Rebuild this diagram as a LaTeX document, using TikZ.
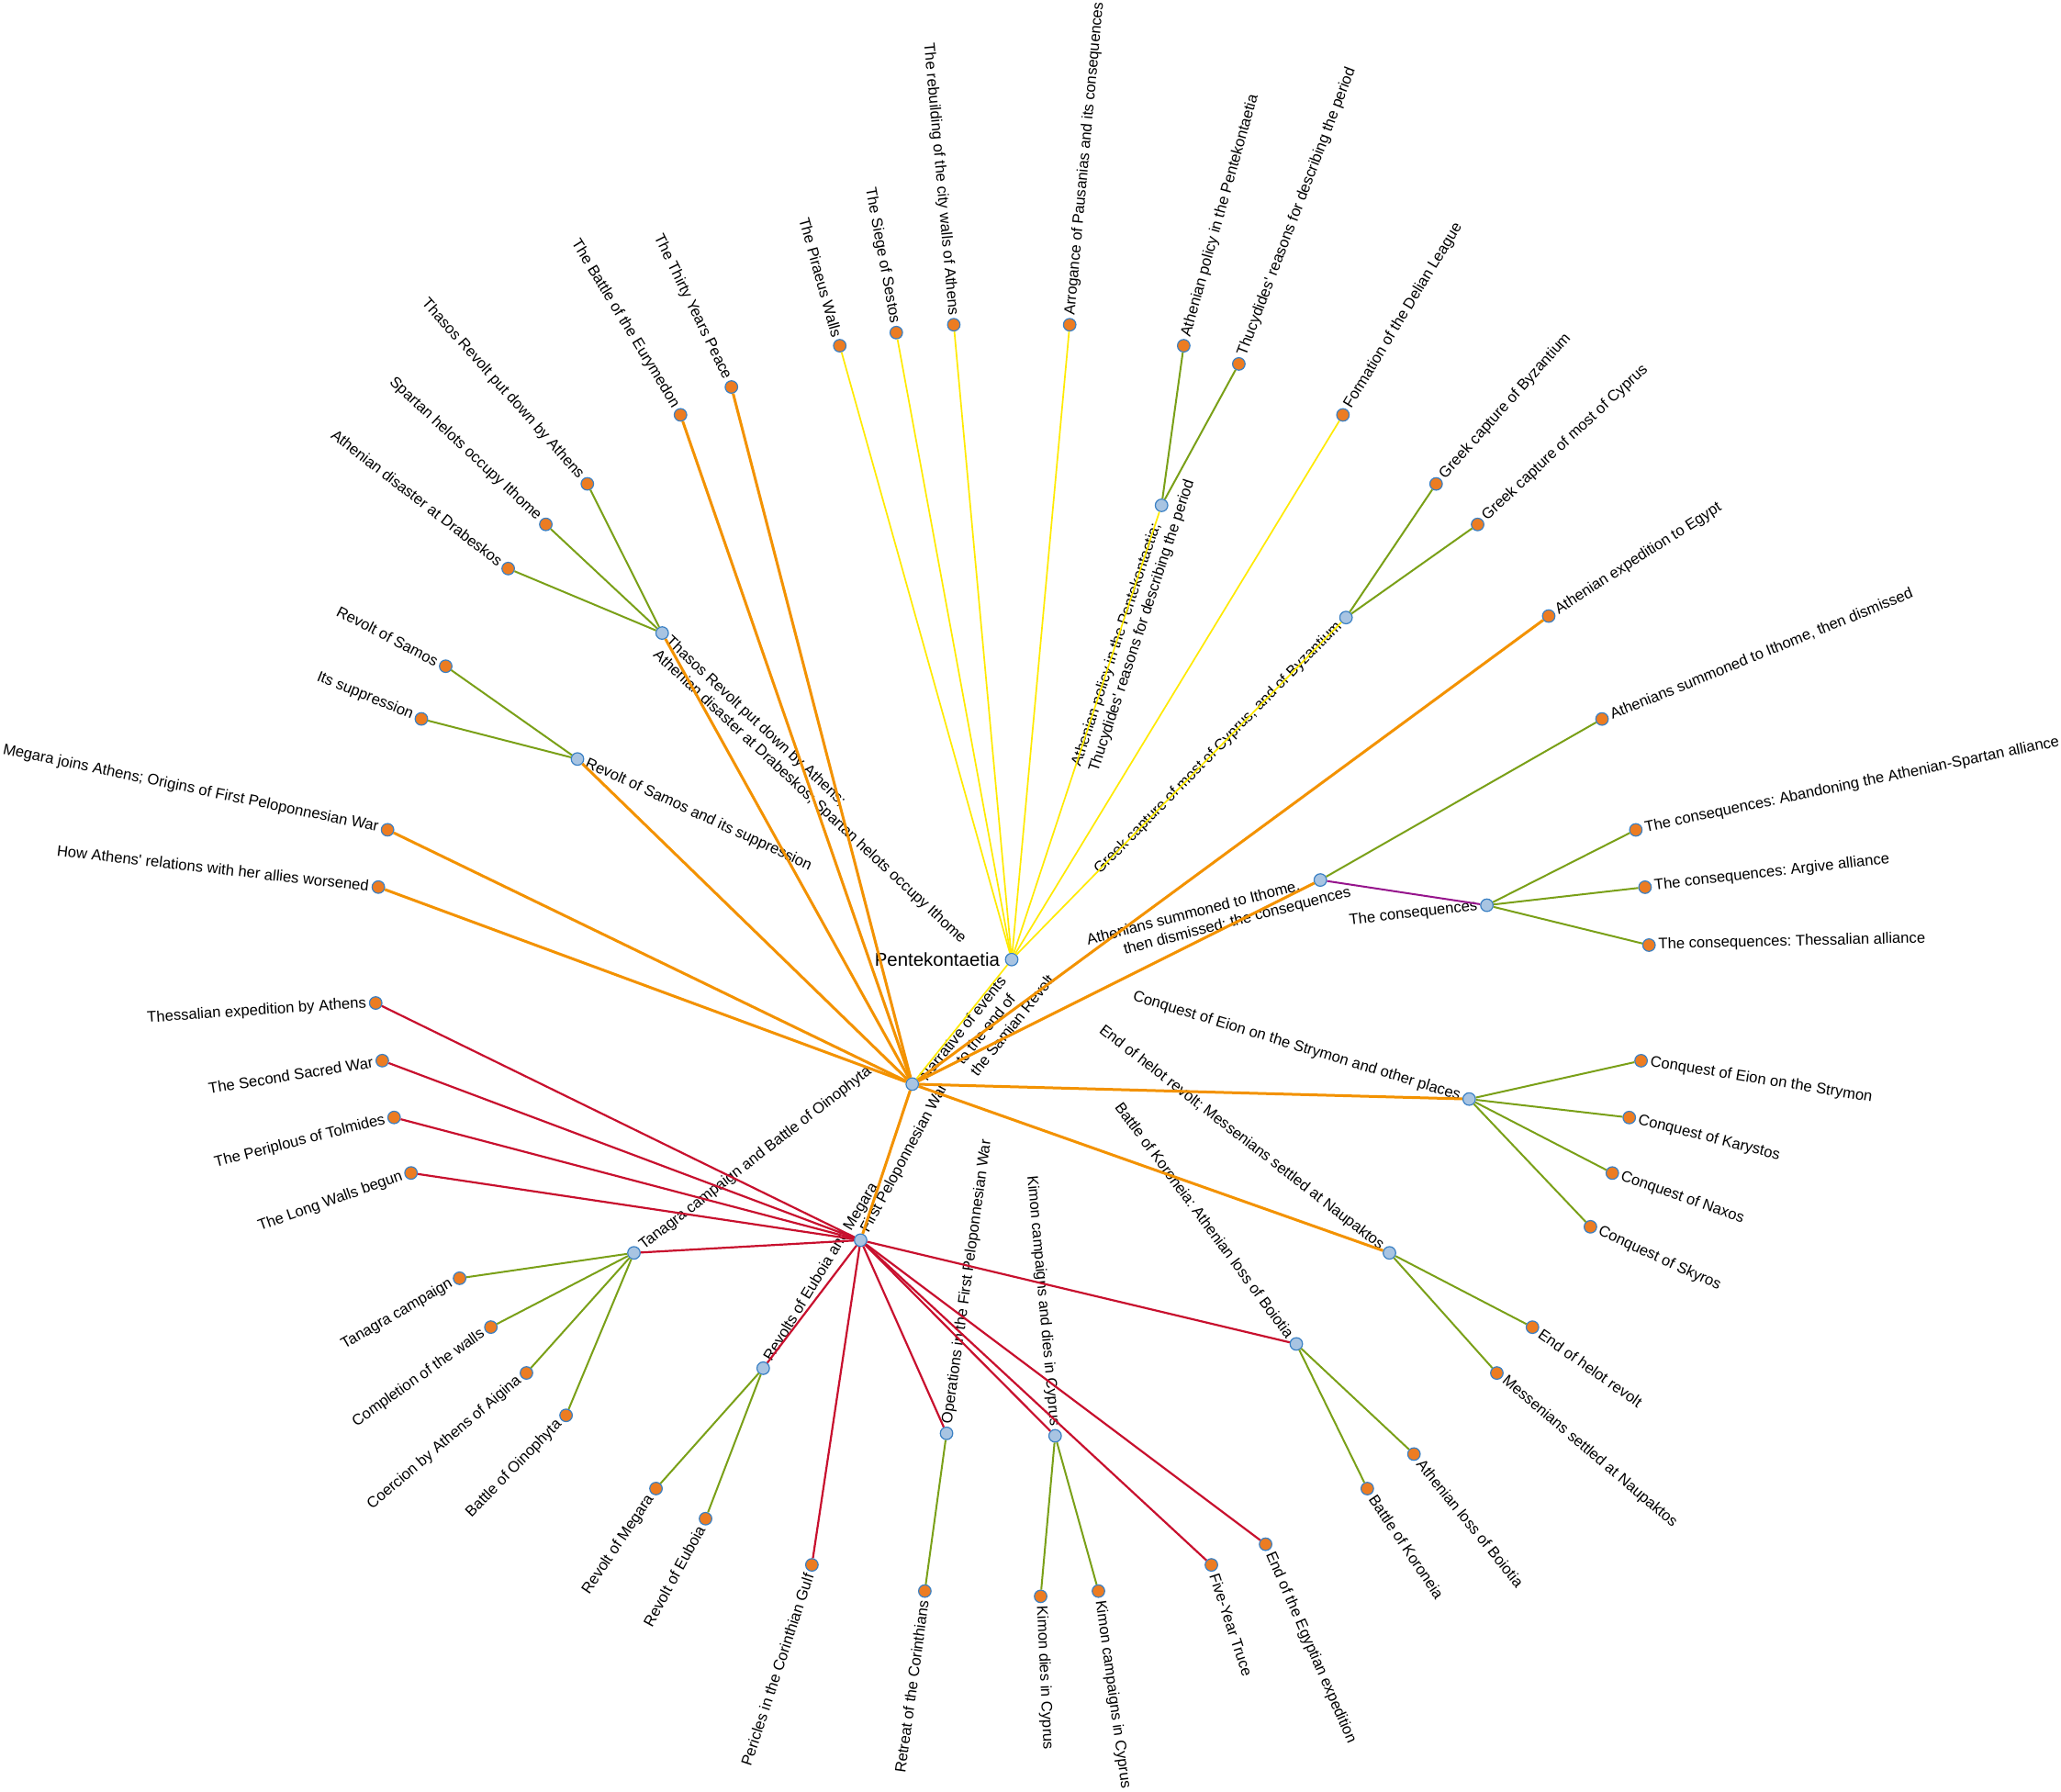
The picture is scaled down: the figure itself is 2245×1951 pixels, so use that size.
\documentclass[tikz,border=0pt]{standalone}
\usepackage{fontspec}
\setmainfont{Liberation Sans}
\frenchspacing
\definecolor{cyel}{RGB}{255,234,0}
\definecolor{corg}{RGB}{243,146,0}
\definecolor{cgrn}{RGB}{122,160,24}
\definecolor{cred}{RGB}{200,16,46}
\definecolor{cpur}{RGB}{150,20,140}
\definecolor{cleaf}{RGB}{236,124,34}
\definecolor{cint}{RGB}{168,196,226}
\definecolor{cbrd}{RGB}{58,128,196}
\newcommand{\LeafR}[3]{\node[leaf] (#1) at ({1.3+#2*5.2173913}:694.4) {};\node[lbl,anchor=west,rotate={1.3+#2*5.2173913}] (#1-t) at ({1.3+#2*5.2173913}:704.4) {#3};}
\newcommand{\LeafL}[3]{\node[leaf] (#1) at ({1.3+#2*5.2173913}:694.4) {};\node[lbl,anchor=east,rotate={1.3+#2*5.2173913-180}] (#1-t) at ({1.3+#2*5.2173913}:704.4) {#3};}
\begin{document}
\frenchspacing
\begin{tikzpicture}[x=0.5pt,y=0.5pt,
 lbl/.style={font=\fontsize{8.3}{10}\selectfont\frenchspacing,inner sep=0pt},
 leaf/.style={circle,fill=cleaf,draw=cbrd,line width=0.6pt,minimum size=6.8pt,inner sep=0pt},
 inode/.style={circle,fill=cint,draw=cbrd,line width=0.6pt,minimum size=6.8pt,inner sep=0pt},
 ey/.style={draw=cyel,line width=0.85pt},
 eo/.style={draw=corg,line width=1.5pt},
 eg/.style={draw=cgrn,line width=1pt},
 er/.style={draw=cred,line width=1.1pt},
 ep/.style={draw=cpur,line width=1pt}]
\fill[white] (0,0) rectangle (2245,-1951);
\useasboundingbox (0,0) rectangle (2245,-1951);
\begin{scope}[shift={(1102,-1045.2)}]
% root
\node[inode] (root) at (0,0) {};
\node[font=\fontsize{10.2}{12}\selectfont,inner sep=0pt,anchor=east] (root-t) at (-12.7,0) {Pentekontaetia};
% internal nodes
\node[inode] (N) at (231.4:173.6) {};
\node[inode] (FPW) at (241.7:347.2) {};
\node[inode] (Sum) at (14.45:347.2) {};
\node[inode] (Pol) at (71.74:521) {};
\node[inode] (Cyp) at (45.65:521) {};
\node[inode] (Tha) at (136.95:521) {};
\node[inode] (Sam) at (155.21:521) {};
\node[inode] (Con) at (6.52:521) {};
\node[inode] (Eio) at (343.04:521) {};
\node[inode] (Hel) at (322.17:521) {};
\node[inode] (Tan) at (217.83:521) {};
\node[inode] (Rev) at (238.7:521) {};
\node[inode] (Ope) at (262.17:521) {};
\node[inode] (Kim) at (275.21:521) {};
\node[inode] (Kor) at (306.52:521) {};
% internal labels
\node[lbl,align=left,anchor=north west,rotate=51.4] (N-t) at ({161.8*cos(231.4)+1.5*cos(141.4)},{161.8*sin(231.4)+1.5*sin(141.4)}) {Narrative of events\\\hspace*{19pt}to the end of\\\hspace*{19pt}the Samian Revolt};
\node[lbl,align=left,anchor=north west,rotate=14.45] (Sum-t) at ({84.4*cos(14.45)+7*cos(104.45)},{84.4*sin(14.45)+7*sin(104.45)}) {Athenians summoned to Ithome,\\\hspace*{18.1pt}then dismissed: the consequences};
\node[lbl,align=left,anchor=north west,rotate=71.74] (Pol-t) at ({222*cos(71.74)+7*cos(161.74)},{222*sin(71.74)+7*sin(161.74)}) {Athenian policy in the Pentekontaetia;\\Thucydides\textquotesingle{} reasons for describing the period};
\node[lbl,align=left,anchor=north west,rotate=-43.05] (Tha-t) at ({512*cos(136.95)+7*cos(46.95)},{512*sin(136.95)+7*sin(46.95)}) {Thasos Revolt put down by Athens;\\Athenian disaster at Drabeskos; Spartan helots occupy Ithome};
\node[lbl,anchor=west,rotate=-24.79] (Sam-t) at (155.21:511) {Revolt of Samos and its suppression};
\node[lbl,anchor=west,rotate=61.7] (FPW-t) at (241.7:337.2) {First Peloponnesian War};
\node[lbl,anchor=west,rotate=37.83] (Tan-t) at (217.83:511) {Tanagra campaign and Battle of Oinophyta};
\node[lbl,anchor=west,rotate=58.7] (Rev-t) at (238.7:511) {Revolts of Euboia and Megara};
\node[lbl,anchor=west,rotate=82.17] (Ope-t) at (262.17:511) {Operations in the First Peloponnesian War};
\node[lbl,anchor=east,rotate=45.65] (Cyp-t) at (45.65:511) {Greek capture of most of Cyprus, and of Byzantium};
\node[lbl,anchor=east,rotate=6.52] (Con-t) at (6.52:511) {The consequences};
\node[lbl,anchor=east,rotate=-16.96] (Eio-t) at (-16.96:511) {Conquest of Eion on the Strymon and other places};
\node[lbl,anchor=east,rotate=-37.83] (Hel-t) at (-37.83:511) {End of helot revolt; Messenians settled at Naupaktos};
\node[lbl,anchor=east,rotate=275.21] (Kim-t) at (275.21:511) {Kimon campaigns and dies in Cyprus};
\node[lbl,anchor=east,rotate=306.52] (Kor-t) at (306.52:511) {Battle of Koroneia: Athenian loss of Boiotia};
% leaves, right side
\LeafR{ThessAll}{0}{The consequences: Thessalian alliance}
\LeafR{Argive}{1}{The consequences: Argive alliance}
\LeafR{Aband}{2}{The consequences: Abandoning the Athenian-Spartan alliance}
\LeafR{SumLeaf}{4}{Athenians summoned to Ithome, then dismissed}
\LeafR{Egypt}{6}{Athenian expedition to Egypt}
\LeafR{MostCyp}{8}{Greek capture of most of Cyprus}
\LeafR{Byz}{9}{Greek capture of Byzantium}
\LeafR{Delian}{11}{Formation of the Delian League}
\LeafR{Thuc}{13}{Thucydides\textquotesingle{} reasons for describing the period}
\LeafR{AthPol}{14}{Athenian policy in the Pentekontaetia}
\LeafR{Arrog}{16}{Arrogance of Pausanias and its consequences}
\LeafR{KimDies}{52}{Kimon dies in Cyprus}
\LeafR{KimCamp}{53}{Kimon campaigns in Cyprus}
\LeafR{FiveYear}{55}{Five-Year Truce}
\LeafR{EndEgypt}{56}{End of the Egyptian expedition}
\LeafR{BatKor}{58}{Battle of Koroneia}
\LeafR{AthLoss}{59}{Athenian loss of Boiotia}
\LeafR{Messen}{61}{Messenians settled at Naupaktos}
\LeafR{EndHelot}{62}{End of helot revolt}
\LeafR{Skyros}{64}{Conquest of Skyros}
\LeafR{Naxos}{65}{Conquest of Naxos}
\LeafR{Karystos}{66}{Conquest of Karystos}
\LeafR{Eion}{67}{Conquest of Eion on the Strymon}
% leaves, left side
\LeafL{Rebuild}{18}{The rebuilding of the city walls of Athens}
\LeafL{Sestos}{19}{The Siege of Sestos}
\LeafL{Piraeus}{20}{The Piraeus Walls}
\LeafL{Thirty}{22}{The Thirty Years Peace}
\LeafL{Eurym}{23}{The Battle of the Eurymedon}
\LeafL{ThasLeaf}{25}{Thasos Revolt put down by Athens}
\LeafL{Spartan}{26}{Spartan helots occupy Ithome}
\LeafL{Drab}{27}{Athenian disaster at Drabeskos}
\LeafL{RevSamos}{29}{Revolt of Samos}
\LeafL{Suppr}{30}{Its suppression}
\LeafL{MegJoins}{32}{Megara joins Athens; Origins of First Peloponnesian War}
\LeafL{HowAth}{33}{How Athens\textquotesingle{} relations with her allies worsened}
\LeafL{ThessExp}{35}{Thessalian expedition by Athens}
\LeafL{Sacred}{36}{The Second Sacred War}
\LeafL{Periplous}{37}{The Periplous of Tolmides}
\LeafL{LongWalls}{38}{The Long Walls begun}
\LeafL{TanCamp}{40}{Tanagra campaign}
\LeafL{Complet}{41}{Completion of the walls}
\LeafL{Coerc}{42}{Coercion by Athens of Aigina}
\LeafL{Oinoph}{43}{Battle of Oinophyta}
\LeafL{RevMeg}{45}{Revolt of Megara}
\LeafL{RevEub}{46}{Revolt of Euboia}
\LeafL{Pericles}{48}{Pericles in the Corinthian Gulf}
\LeafL{Retreat}{50}{Retreat of the Corinthians}
\end{scope}
% edges: root
\foreach \t in {Piraeus,Sestos,Rebuild,Arrog,Delian,Pol,Cyp,N} \draw[ey] (root) -- (\t);
\foreach \t in {AthPol,Thuc} \draw[eg] (Pol) -- (\t);
\foreach \t in {Byz,MostCyp} \draw[eg] (Cyp) -- (\t);
% edges: narrative
\foreach \t in {Eurym,Thirty,Tha,Sam,MegJoins,HowAth,Egypt,Sum,Eio,Hel,FPW} \draw[eo] (N) -- (\t);
\foreach \t in {ThasLeaf,Spartan,Drab} \draw[eg] (Tha) -- (\t);
\foreach \t in {RevSamos,Suppr} \draw[eg] (Sam) -- (\t);
\draw[eg] (Sum) -- (SumLeaf);
\draw[ep] (Sum) -- (Con);
\foreach \t in {Aband,Argive,ThessAll} \draw[eg] (Con) -- (\t);
\foreach \t in {Eion,Karystos,Naxos,Skyros} \draw[eg] (Eio) -- (\t);
\foreach \t in {EndHelot,Messen} \draw[eg] (Hel) -- (\t);
% edges: first peloponnesian war
\foreach \t in {ThessExp,Sacred,Periplous,LongWalls,Tan,Rev,Pericles,Ope,Kim,FiveYear,EndEgypt,Kor} \draw[er] (FPW) -- (\t);
\foreach \t in {TanCamp,Complet,Coerc,Oinoph} \draw[eg] (Tan) -- (\t);
\foreach \t in {RevMeg,RevEub} \draw[eg] (Rev) -- (\t);
\draw[eg] (Ope) -- (Retreat);
\foreach \t in {KimDies,KimCamp} \draw[eg] (Kim) -- (\t);
\foreach \t in {BatKor,AthLoss} \draw[eg] (Kor) -- (\t);
\end{tikzpicture}
\end{document}
